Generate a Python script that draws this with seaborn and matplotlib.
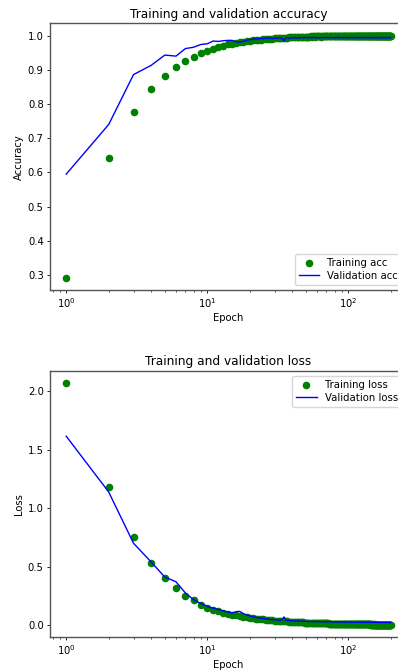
import matplotlib
matplotlib.use("Agg")
import matplotlib.pyplot as plt
import seaborn as sns
import numpy as np

train_acc = [
    0.292, 0.643, 0.777, 0.845, 0.882, 0.909, 0.927, 0.937, 0.949, 0.956,
    0.962, 0.968, 0.971, 0.974, 0.976, 0.978, 0.980, 0.982, 0.983, 0.985,
    0.986, 0.987, 0.988, 0.988, 0.989, 0.990, 0.990, 0.991, 0.991, 0.992,
    0.992, 0.993, 0.993, 0.993, 0.994, 0.994, 0.994, 0.995, 0.995, 0.995,
    0.995, 0.996, 0.996, 0.996, 0.996, 0.996, 0.997, 0.997, 0.997, 0.997,
    0.997, 0.997, 0.997, 0.998, 0.997, 0.998, 0.998, 0.997, 0.998, 0.998,
    0.998, 0.998, 0.998, 0.997, 0.998, 0.998, 0.998, 0.998, 0.998, 0.998,
    0.998, 0.998, 0.999, 0.998, 0.998, 0.998, 0.999, 0.998, 0.998, 0.999,
    0.998, 0.999, 0.998, 0.998, 0.999, 0.999, 0.998, 0.999, 0.999, 0.998,
    0.999, 0.999, 0.998, 0.999, 0.999, 0.999, 0.998, 0.999, 0.999, 0.999,
    0.999, 0.998, 0.999, 0.999, 0.999, 0.999, 0.999, 0.998, 0.999, 0.999,
    0.999, 0.999, 0.999, 0.999, 0.998, 0.999, 0.999, 0.999, 0.999, 0.999,
    0.999, 0.999, 0.999, 1.000, 0.999, 0.999, 0.999, 0.999, 0.999, 0.999,
    0.999, 0.999, 1.000, 0.999, 0.999, 0.999, 0.999, 0.999, 1.000, 0.999,
    0.999, 0.999, 0.999, 0.999, 0.999, 1.000, 0.999, 0.999, 0.999, 0.999,
    0.999, 1.000, 0.999, 0.999, 0.999, 0.999, 0.999, 1.000, 0.999, 0.999,
    0.999, 0.999, 0.999, 1.000, 0.999, 0.999, 0.999, 0.999, 1.000, 0.999,
    0.999, 0.999, 0.999, 0.999, 1.000, 0.999, 0.999, 0.999, 0.999, 1.000,
    0.999, 0.999, 0.999, 1.000, 0.999, 0.999, 0.999, 1.000, 0.999, 0.999,
    0.999, 1.000, 0.999, 0.999, 0.999, 1.000, 0.999, 0.999, 1.000, 0.999,
]

val_acc = [
    0.595, 0.740, 0.886, 0.913, 0.943, 0.940, 0.962, 0.966, 0.974, 0.976,
    0.984, 0.983, 0.985, 0.986, 0.986, 0.982, 0.981, 0.983, 0.986, 0.988,
    0.989, 0.991, 0.990, 0.992, 0.991, 0.993, 0.992, 0.993, 0.991, 0.993,
    0.992, 0.994, 0.993, 0.992, 0.984, 0.993, 0.994, 0.992, 0.993, 0.994,
    0.993, 0.995, 0.992, 0.994, 0.993, 0.995, 0.994, 0.993, 0.995, 0.994,
    0.994, 0.993, 0.995, 0.994, 0.993, 0.995, 0.994, 0.994, 0.993, 0.995,
    0.994, 0.993, 0.994, 0.995, 0.993, 0.994, 0.994, 0.995, 0.993, 0.994,
    0.995, 0.994, 0.993, 0.994, 0.995, 0.994, 0.993, 0.995, 0.994, 0.994,
    0.993, 0.995, 0.994, 0.994, 0.996, 0.994, 0.993, 0.994, 0.995, 0.994,
    0.994, 0.995, 0.993, 0.994, 0.995, 0.994, 0.994, 0.993, 0.995, 0.994,
    0.995, 0.994, 0.993, 0.994, 0.995, 0.994, 0.995, 0.994, 0.993, 0.994,
    0.994, 0.995, 0.994, 0.993, 0.995, 0.994, 0.994, 0.995, 0.993, 0.994,
    0.995, 0.994, 0.994, 0.993, 0.995, 0.994, 0.995, 0.994, 0.994, 0.993,
    0.994, 0.995, 0.994, 0.994, 0.993, 0.995, 0.994, 0.994, 0.995, 0.994,
    0.993, 0.994, 0.995, 0.994, 0.994, 0.995, 0.993, 0.994, 0.994, 0.995,
    0.994, 0.994, 0.993, 0.995, 0.994, 0.994, 0.995, 0.994, 0.993, 0.994,
    0.995, 0.994, 0.994, 0.993, 0.994, 0.995, 0.994, 0.994, 0.993, 0.995,
    0.994, 0.994, 0.995, 0.993, 0.994, 0.994, 0.995, 0.994, 0.994, 0.993,
    0.994, 0.995, 0.994, 0.994, 0.993, 0.995, 0.994, 0.994, 0.995, 0.994,
    0.993, 0.994, 0.995, 0.994, 0.994, 0.993, 0.995, 0.994, 0.994, 0.994,
]

train_loss = [
    2.070, 1.180, 0.751, 0.530, 0.405, 0.314, 0.250, 0.212, 0.173, 0.148,
    0.133, 0.118, 0.108, 0.098, 0.090, 0.083, 0.077, 0.072, 0.067, 0.063,
    0.060, 0.057, 0.054, 0.051, 0.049, 0.047, 0.045, 0.043, 0.041, 0.040,
    0.038, 0.037, 0.036, 0.035, 0.034, 0.033, 0.032, 0.031, 0.030, 0.029,
    0.028, 0.028, 0.027, 0.026, 0.026, 0.025, 0.024, 0.024, 0.023, 0.023,
    0.022, 0.022, 0.021, 0.021, 0.020, 0.020, 0.020, 0.019, 0.019, 0.018,
    0.018, 0.018, 0.017, 0.017, 0.017, 0.016, 0.016, 0.016, 0.015, 0.015,
    0.015, 0.015, 0.014, 0.014, 0.014, 0.014, 0.013, 0.013, 0.013, 0.013,
    0.013, 0.012, 0.012, 0.012, 0.012, 0.012, 0.011, 0.011, 0.011, 0.011,
    0.011, 0.011, 0.010, 0.010, 0.010, 0.010, 0.010, 0.010, 0.010, 0.009,
    0.009, 0.009, 0.009, 0.009, 0.009, 0.009, 0.009, 0.009, 0.008, 0.008,
    0.008, 0.008, 0.008, 0.008, 0.008, 0.008, 0.008, 0.008, 0.008, 0.008,
    0.008, 0.007, 0.007, 0.007, 0.007, 0.007, 0.007, 0.007, 0.007, 0.007,
    0.007, 0.007, 0.007, 0.007, 0.007, 0.007, 0.007, 0.007, 0.007, 0.007,
    0.007, 0.007, 0.006, 0.007, 0.006, 0.007, 0.006, 0.006, 0.007, 0.006,
    0.006, 0.006, 0.006, 0.006, 0.007, 0.006, 0.006, 0.006, 0.006, 0.006,
    0.006, 0.006, 0.006, 0.006, 0.006, 0.006, 0.006, 0.006, 0.006, 0.006,
    0.006, 0.006, 0.006, 0.006, 0.006, 0.006, 0.006, 0.006, 0.006, 0.006,
    0.006, 0.006, 0.005, 0.006, 0.006, 0.006, 0.005, 0.006, 0.006, 0.006,
    0.006, 0.005, 0.006, 0.006, 0.006, 0.005, 0.006, 0.006, 0.006, 0.006,
]

val_loss = [
    1.614, 1.138, 0.700, 0.540, 0.411, 0.371, 0.275, 0.218, 0.185, 0.161,
    0.145, 0.134, 0.122, 0.112, 0.104, 0.116, 0.118, 0.100, 0.088, 0.080,
    0.072, 0.068, 0.062, 0.060, 0.056, 0.053, 0.052, 0.049, 0.048, 0.046,
    0.045, 0.044, 0.043, 0.047, 0.071, 0.042, 0.040, 0.041, 0.038, 0.038,
    0.037, 0.036, 0.038, 0.035, 0.035, 0.034, 0.036, 0.034, 0.033, 0.034,
    0.032, 0.033, 0.031, 0.032, 0.031, 0.030, 0.032, 0.031, 0.030, 0.031,
    0.030, 0.031, 0.029, 0.030, 0.031, 0.029, 0.030, 0.029, 0.030, 0.029,
    0.029, 0.030, 0.028, 0.029, 0.030, 0.028, 0.029, 0.028, 0.029, 0.028,
    0.028, 0.029, 0.027, 0.028, 0.029, 0.027, 0.028, 0.027, 0.028, 0.028,
    0.027, 0.028, 0.027, 0.028, 0.026, 0.027, 0.028, 0.027, 0.026, 0.027,
    0.027, 0.026, 0.027, 0.026, 0.027, 0.026, 0.027, 0.026, 0.026, 0.027,
    0.026, 0.027, 0.026, 0.025, 0.026, 0.027, 0.026, 0.025, 0.026, 0.026,
    0.025, 0.026, 0.026, 0.025, 0.026, 0.025, 0.026, 0.025, 0.026, 0.025,
    0.025, 0.026, 0.025, 0.025, 0.026, 0.025, 0.024, 0.025, 0.026, 0.025,
    0.025, 0.024, 0.025, 0.026, 0.025, 0.024, 0.025, 0.025, 0.024, 0.025,
    0.025, 0.024, 0.025, 0.024, 0.025, 0.025, 0.024, 0.025, 0.024, 0.025,
    0.024, 0.025, 0.024, 0.024, 0.025, 0.024, 0.025, 0.024, 0.024, 0.025,
    0.024, 0.024, 0.025, 0.024, 0.024, 0.023, 0.024, 0.025, 0.024, 0.024,
    0.024, 0.023, 0.024, 0.024, 0.025, 0.024, 0.023, 0.024, 0.024, 0.023,
    0.024, 0.024, 0.023, 0.024, 0.024, 0.023, 0.024, 0.024, 0.023, 0.024,
]

epochs = list(range(1, len(train_acc) + 1))

titles = ["Training and validation accuracy", "Training and validation loss"]
ylabels = ["Accuracy", "Loss"]
train_labels = ["Training acc", "Training loss"]
val_labels = ["Validation acc", "Validation loss"]
legend_locs = ["lower right", "upper right"]

FS_TICK = 7.2
FS_LEG = 7.3
FS_TITLE = 8.7

plt.rcParams["font.family"] = ["DejaVu Sans"]
fig = plt.figure(figsize=(3.98, 6.71), dpi=100)
positions = [[0.1256, 0.568, 0.897, 0.397], [0.1256, 0.0511, 0.897, 0.3964]]
series = [(train_acc, val_acc), (train_loss, val_loss)]

for i in range(2):
    ax = fig.add_axes(positions[i])
    tr, va = series[i]
    sns.scatterplot(x=epochs, y=tr, ax=ax, color="green", s=30, linewidth=0,
                    label=train_labels[i], zorder=2)
    sns.lineplot(x=epochs, y=va, ax=ax, color="blue", linewidth=1.0,
                 label=val_labels[i], zorder=3)
    ax.set_xscale("log")
    ax.set_title(titles[i], fontsize=FS_TITLE, pad=4)
    ax.set_xlabel("Epoch", fontsize=FS_TICK, labelpad=2)
    ax.set_ylabel(ylabels[i], fontsize=FS_TICK, labelpad=3)
    ax.tick_params(axis="both", which="major", labelsize=FS_TICK, length=2.5, width=0.6, pad=2)
    ax.tick_params(axis="both", which="minor", length=1.5, width=0.5)
    for sp in ax.spines.values():
        sp.set_color("#555555")
        sp.set_linewidth(1.0)
    leg = ax.legend(loc=legend_locs[i], fontsize=FS_LEG, markerscale=1.0,
                    handlelength=2.0, borderpad=0.4, labelspacing=0.3)

fig.savefig("out.png", dpi=100)
